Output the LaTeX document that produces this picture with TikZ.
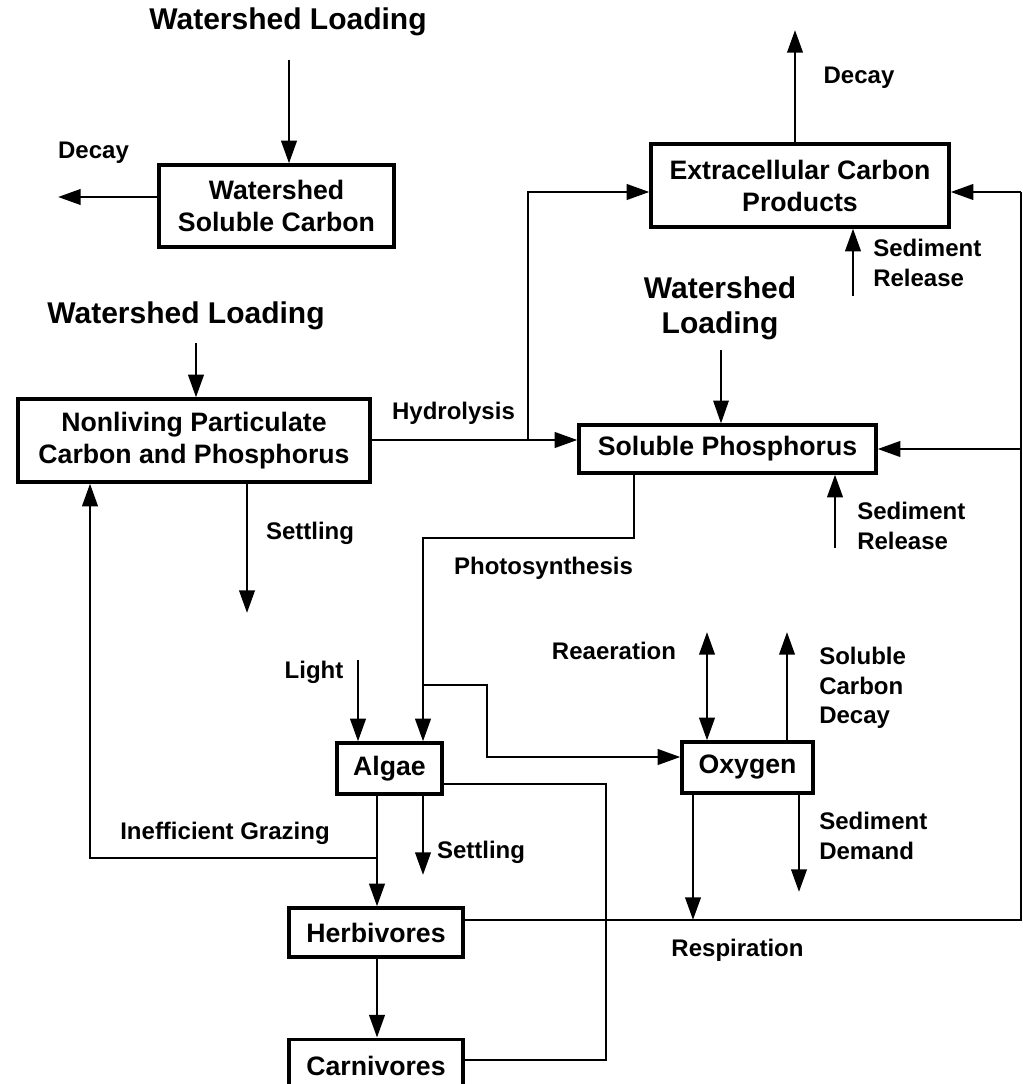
\documentclass[tikz,border=0pt]{standalone}
\usepackage{fontspec}
\setmainfont{Liberation Sans}
\usetikzlibrary{arrows.meta, positioning}

\begin{document}
\begin{tikzpicture}[
  x=0.75pt, y=-0.75pt,
  box/.style={
    rectangle, draw, line width=2.4pt,
    align=center, inner sep=0pt,
    font=\fontsize{20}{24}\selectfont\bfseries
  },
  head/.style={align=center, inner sep=0pt, font=\fontsize{22.5}{26}\selectfont\bfseries},
  flowtext/.style={align=left, inner sep=0pt, font=\fontsize{18}{22}\selectfont\bfseries},
  flow/.style={-{Triangle[length=17pt,width=11.5pt]}, line width=2.2pt},
  twoway/.style={{Triangle[length=17pt,width=11.5pt]}-{Triangle[length=17pt,width=11.5pt]}, line width=2.2pt},
  link/.style={line width=2.2pt}
]
\useasboundingbox (0,0) rectangle (1023,1084);

% compartments
\node[box, minimum width=176.25pt, minimum height=61.5pt] (wsc) at (276.5,206)
  {Watershed\\Soluble Carbon};
\node[box, minimum width=223.5pt, minimum height=62.25pt] (ecp) at (800,185.5)
  {Extracellular Carbon\\Products};
\node[box, minimum width=264pt, minimum height=62.25pt] (npc) at (194,440.5)
  {Nonliving Particulate\\Carbon and Phosphorus};
\node[box, minimum width=222.75pt, minimum height=36pt] (sp) at (727.5,449)
  {Soluble Phosphorus};
\node[box, minimum width=78.75pt, minimum height=38.25pt] (algae) at (389.5,768.5) {Algae};
\node[box, minimum width=98.25pt, minimum height=38.25pt] (oxygen) at (747.5,767.5) {Oxygen};
\node[box, minimum width=130.5pt, minimum height=36.75pt] (herb) at (376,932.5) {Herbivores};
\node[box, minimum width=130.5pt, minimum height=40.5pt, below=59.25pt of herb] (carn) {Carnivores};

% texts
\node[head] (wl1) at (288,22) {Watershed Loading};
\node[head] (wl2) at (720,308) {Watershed\\Loading};
\node[head] (wl3) at (186,316) {Watershed Loading};
\node[flowtext] (dcy1) at (93.5,153) {Decay};
\node[flowtext] (dcy2) at (859,78) {Decay};
\node[flowtext, anchor=west] (sed1) at (873,263) {Sediment\\Release};
\node[flowtext] (hydtxt) at (453.5,413) {Hydrolysis};
\node[flowtext] (set1) at (310,533) {Settling};
\node[flowtext, anchor=west] (sed2) at (857,526) {Sediment\\Release};
\node[flowtext] (phot) at (543.5,568) {Photosynthesis};
\node[flowtext] (reae) at (614,651) {Reaeration};
\node[flowtext, anchor=west] (scdtxt) at (819,688) {Soluble\\Carbon\\Decay};
\node[flowtext] (lighttxt) at (314,672) {Light};
\node[flowtext] (grz) at (225,833) {Inefficient Grazing};
\node[flowtext] (set2) at (481,852) {Settling};
\node[flowtext, anchor=west] (sdmtxt) at (819,836) {Sediment\\Demand};
\node[flowtext] (resp) at (737.5,950) {Respiration};

% free ends and bends
\coordinate (wl1in) at (289,60);
\coordinate (dcyL) at (58,197);
\coordinate (dcyU) at (795,30);
\coordinate (srUp) at (853,296);
\coordinate (wl2in) at (721,350);
\coordinate (srLo) at (835,548);
\coordinate (wl3in) at (196,343);
\coordinate (hyd) at (528,440);
\coordinate (rt) at (1021,192);
\coordinate (rb) at (1021,920);
\coordinate (ps) at (634,538);
\coordinate (psl) at (423,538);
\coordinate (psb) at (423,685);
\coordinate (oxin) at (487,757);
\coordinate (lt) at (358,660);
\coordinate (gz) at (377,858);
\coordinate (gzl) at (90,858);
\coordinate (ast) at (423,875);
\coordinate (nst) at (247,613);
\coordinate (ac) at (606,784);
\coordinate (acb) at (606,1060);
\coordinate (rea) at (707,632);
\coordinate (scd) at (787,632);
\coordinate (sdm) at (799,892);
\coordinate (rsp) at (693,920);

% loadings, decay, sediment
\draw[flow] (wl1in) -- (wl1in |- wsc.north);
\draw[flow] (wsc.west |- dcyL) -- (dcyL);
\draw[flow] (dcyU |- ecp.north) -- (dcyU);
\draw[flow] (srUp) -- (srUp |- ecp.south);
\draw[flow, line width=1.4pt] (wl2in) -- (wl2in |- sp.north);
\draw[flow] (srLo) -- (srLo |- sp.south);
\draw[flow] (wl3in) -- (wl3in |- npc.north);

% hydrolysis
\draw[flow] (npc.east |- hyd) -- (sp.west |- hyd);
\draw[flow] (hyd) |- (ecp.west |- rt);

% return loop
\draw[link] (herb.east |- rb) -- (rb) -- (rt);
\draw[flow] (rt) -- (ecp.east |- rt);
\draw[flow] (rb |- sp.east) -- (sp.east);

% photosynthesis
\draw[flow] (sp.south -| ps) |- (psl) -- (psl |- algae.north);
\draw[flow] (psb) -| (oxin) -- (oxin -| oxygen.west);
\draw[flow] (lt) -- (lt |- algae.north);

% grazing and settling
\draw[flow] (algae.south -| gz) -- (gz |- herb.north);
\draw[flow] (gz) -- (gzl) -- (gzl |- npc.south);
\draw[flow] (algae.south -| ast) -- (ast);
\draw[flow] (npc.south -| nst) -- (nst);
\draw[flow] (herb.south -| gz) -- (carn.north -| gz);
\draw[link] (algae.east |- ac) -- (ac) -- (acb) -- (acb -| carn.east);

% oxygen
\draw[twoway] (rea) -- (rea |- oxygen.north);
\draw[flow] (oxygen.north -| scd) -- (scd);
\draw[flow] (oxygen.south -| sdm) -- (sdm);
\draw[flow] (oxygen.south -| rsp) -- (rsp);

\end{tikzpicture}
\end{document}
